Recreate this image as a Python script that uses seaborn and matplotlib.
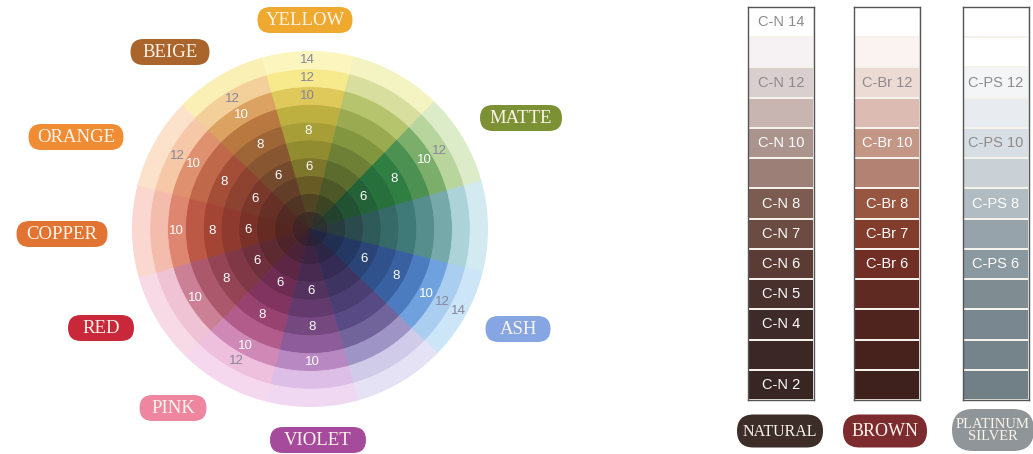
import numpy as np
import matplotlib
matplotlib.use("Agg")
import matplotlib.pyplot as plt
import seaborn as sns
from matplotlib.colors import ListedColormap, to_rgb
from matplotlib.patches import FancyBboxPatch

# ---------------- data ----------------
# colour wheel: 12 sectors counter-clockwise starting at the right (east)
sector_names = ["Teal", "Matte", "Yellow-green", "Yellow", "Beige", "Orange",
                "Copper", "Red", "Pink", "Violet", "Lavender", "Ash"]
ring_levels = [3, 4, 5, 6, 7, 8, 9, 10, 12, 14]   # inner -> outer

teal_shades = ["#2c3034", "#283c40", "#2a4a4e", "#2e5a5a", "#366a68", "#407a78", "#558e8c", "#76aaaa", "#acd3d8", "#d2eaf0"]
matte_shades = ["#2a302a", "#23422e", "#215232", "#226236", "#27703c", "#307e42", "#4c9052", "#7aae6a", "#b9d59e", "#dcebc8"]
yellowgreen_shades = ["#32302a", "#3c4424", "#4c5828", "#5c6c2e", "#6e8036", "#82963f", "#9aaa50", "#b6c46e", "#d8de9e", "#f4f3c2"]
yellow_shades = ["#3c3024", "#504422", "#685c24", "#7e762a", "#928c30", "#a89e38", "#beb040", "#dec95a", "#f6ea8c", "#fcf6be"]
beige_shades = ["#3e2c24", "#503424", "#623e28", "#744a2c", "#885630", "#9e6636", "#b87840", "#dba262", "#f3d09a", "#faf0b6"]
orange_shades = ["#402624", "#522a24", "#663026", "#7a382a", "#8e4230", "#a44e38", "#c0684a", "#df906e", "#f6c8a8", "#fce2ca"]
copper_shades = ["#402424", "#542620", "#662c24", "#7a3228", "#8e3a2e", "#a44434", "#bc5846", "#df8670", "#f4bcac", "#fad8d0"]
red_shades = ["#3e2226", "#4e242a", "#5e2a32", "#6e303c", "#803846", "#944454", "#ac586c", "#cb8096", "#efc2d4", "#f8dae6"]
pink_shades = ["#3a202e", "#4c2238", "#5c2644", "#6e2c52", "#823460", "#984270", "#b25c8c", "#d088b6", "#eec0de", "#f6d8ee"]
violet_shades = ["#302036", "#3c2442", "#482a50", "#54325e", "#643a6e", "#764880", "#8e5c9a", "#b888c2", "#ddbee6", "#f0d8f2"]
lavender_shades = ["#28223a", "#2c2646", "#342c54", "#3e3462", "#4a3e72", "#584a84", "#70649a", "#9e94c6", "#d1cbea", "#e6e2f6"]
ash_shades = ["#202642", "#202e52", "#243864", "#2a4478", "#30528c", "#3961a2", "#4c7cc0", "#6ea1de", "#a9cef0", "#cce6f8"]

matte_numbers = [6, 8, 10, 12]
yellow_numbers = [6, 8, 10, 12, 14]
beige_numbers = [6, 8, 10, 12]
orange_numbers = [6, 8, 10, 12]
copper_numbers = [6, 8, 10]
red_numbers = [6, 8, 10]
pink_numbers = [6, 8, 10, 12]
violet_numbers = [6, 8, 10]
ash_numbers = [6, 8, 10, 12, 14]

wheel_labels = ["YELLOW", "BEIGE", "MATTE", "ORANGE", "COPPER", "RED", "PINK", "VIOLET", "ASH"]
wheel_label_colors = ["#eea92e", "#a9652c", "#7b9133", "#f08c34", "#e17433",
                      "#c9283b", "#ef86a0", "#a64b9b", "#85a6e2"]

# colour strips (levels 14 -> 2)
strip_levels = [14, 13, 12, 11, 10, 9, 8, 7, 6, 5, 4, 3, 2]
natural_colors = ["#ffffff", "#f6f1f2", "#dacfcf", "#c8b4b0", "#ac948e", "#9c8078", "#7c5c50",
                  "#6c4c42", "#5a3c34", "#48302c", "#3e2a28", "#3b2826", "#382625"]
brown_colors = ["#ffffff", "#fbf3f1", "#ecdad4", "#dcbcb2", "#c49686", "#b48272", "#985640",
                "#823c2c", "#702e24", "#5e2a22", "#50241e", "#47221d", "#3e201c"]
platinum_colors = ["#ffffff", "#ffffff", "#f3f5f7", "#e8ecf0", "#d8dfe4", "#c9d1d6", "#b0bcc2",
                   "#96a3aa", "#8a989f", "#7f8d93", "#798890", "#75848a", "#717f86"]
natural_labels = ["C-N 14", "", "C-N 12", "", "C-N 10", "", "C-N 8", "C-N 7", "C-N 6",
                  "C-N 5", "C-N 4", "", "C-N 2"]
brown_labels = ["", "", "C-Br 12", "", "C-Br 10", "", "C-Br 8", "C-Br 7", "C-Br 6", "", "", "", ""]
platinum_labels = ["", "", "C-PS 12", "", "C-PS 10", "", "C-PS 8", "", "C-PS 6", "", "", "", ""]
strip_names = ["NATURAL", "BROWN", "PLATINUM\nSILVER"]
strip_name_colors = ["#3c2d29", "#7c2c2f", "#8f9598"]

# ---------------- figure ----------------
sns.set_theme(style="white")
plt.rcParams["font.family"] = ["Liberation Sans", "DejaVu Sans"]

W, H = 1033, 454
fig = plt.figure(figsize=(W / 100, H / 100), dpi=100)
fig.patch.set_facecolor("white")

# ---- colour wheel (polar bars) ----
cx, cy, R = 310, 229, 178
pax = fig.add_axes([(cx - R) / W, (H - cy - R) / H, 2 * R / W, 2 * R / H], projection="polar")
pax.set_theta_zero_location("E")
pax.set_ylim(0, len(ring_levels))
pax.set_axis_off()

all_shades = [teal_shades, matte_shades, yellowgreen_shades, yellow_shades, beige_shades,
              orange_shades, copper_shades, red_shades, pink_shades, violet_shades,
              lavender_shades, ash_shades]
all_numbers = [[], matte_numbers, [], yellow_numbers, beige_numbers, orange_numbers,
               copper_numbers, red_numbers, pink_numbers, violet_numbers, [], ash_numbers]
step = 2 * np.pi / len(sector_names)
start = np.deg2rad(1.0)
thetas = start + step * np.arange(len(sector_names))

for j in range(len(ring_levels)):
    cols = [sh[j] for sh in all_shades]
    pax.bar(thetas, 1.0, width=step, bottom=j, align="center",
            color=cols, edgecolor=cols, linewidth=0.6)


def lum(c):
    r, g, b = to_rgb(c)
    return 0.299 * r + 0.587 * g + 0.114 * b


for th, shades, nums in zip(thetas, all_shades, all_numbers):
    for n in nums:
        j = ring_levels.index(n)
        col = "#86869a" if lum(shades[j]) > 0.72 else "white"
        pax.text(th, j + 0.5, str(n), ha="center", va="center", fontsize=9.5, color=col)

# ---- colour strips (seaborn heatmaps) ----
strip_lefts = [748, 854, 963]
strip_w = 66
top, bottom = 7, 400
for left, cols, labs in zip(strip_lefts, [natural_colors, brown_colors, platinum_colors],
                            [natural_labels, brown_labels, platinum_labels]):
    sax = fig.add_axes([left / W, (H - bottom) / H, strip_w / W, (bottom - top) / H])
    n = len(strip_levels)
    sns.heatmap(np.arange(n).reshape(-1, 1), ax=sax, cmap=ListedColormap(cols),
                vmin=-0.5, vmax=n - 0.5, cbar=False,
                annot=np.array(labs, dtype=object).reshape(-1, 1), fmt="",
                annot_kws={"fontsize": 10.5},
                linewidths=1.1, linecolor="#f4f2ea",
                xticklabels=False, yticklabels=False)
    for t in sax.texts:
        lab = t.get_text()
        if lab:
            idx = labs.index(lab)
            t.set_color("#8e8a8c" if lum(cols[idx]) > 0.8 else "white")
    for s in sax.spines.values():
        s.set_visible(True)
        s.set_color("#555555")
        s.set_linewidth(1.0)

# ---- pill labels ----
ov = fig.add_axes([0, 0, 1, 1])
ov.set_xlim(0, W)
ov.set_ylim(H, 0)
ov.set_axis_off()
ov.patch.set_alpha(0)


def pill(x, y, w, h, color, text, fs, **kw):
    ov.add_patch(FancyBboxPatch((x - w / 2, y - h / 2), w, h,
                                boxstyle="round,pad=0,rounding_size=%f" % (h / 2),
                                facecolor=color, edgecolor="none"))
    ov.text(x, y + 0.5, text, ha="center", va="center", color="#fbf4ea",
            fontsize=fs, **kw)


wheel_label_pos = [(305, 20, 95), (170, 52, 79), (521, 118, 82), (76, 137, 95),
                   (62, 234, 91), (101, 328, 66), (173, 408, 67), (318, 440, 96),
                   (518, 329, 65)]
for name, col, (x, y, w) in zip(wheel_labels, wheel_label_colors, wheel_label_pos):
    pill(x, y, w, 26, col, name, 13.5, family=["Liberation Serif", "DejaVu Serif"])

strip_label_pos = [(780, 431, 86, 33, 11.5), (885, 431, 84, 33, 13), (993, 430, 82, 42, 10.5)]
for name, col, (x, y, w, h, fs) in zip(strip_names, strip_name_colors, strip_label_pos):
    pill(x, y, w, h, col, name, fs, family=["Liberation Serif", "DejaVu Serif"],
         linespacing=0.85)

fig.savefig("out.png", dpi=100, facecolor="white")
